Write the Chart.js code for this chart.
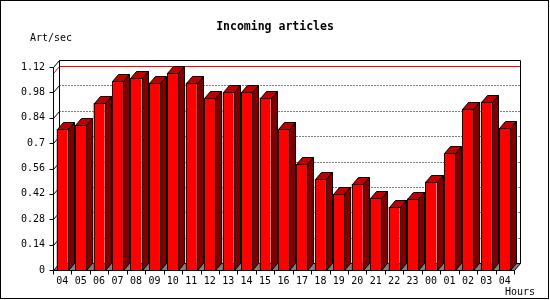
<!DOCTYPE html>
<html>
<head>
<meta charset="utf-8">
<script src="https://cdn.jsdelivr.net/npm/chart.js@4/dist/chart.umd.min.js"></script>
<style>
  body { margin: 0; background: #fff; }
  canvas { display: block; }
</style>
</head>
<body>
<canvas id="articlesChart" width="550" height="300"></canvas>
<script>
// ===================== data =====================
var hours = ["04", "05", "06", "07", "08", "09", "10", "11", "12", "13", "14", "15", "16",
  "17", "18", "19", "20", "21", "22", "23", "00", "01", "02", "03", "04"];
var artPerSec = [0.778, 0.8, 0.922, 1.041, 1.058, 1.033, 1.088, 1.033, 0.95, 0.981, 0.981, 0.95, 0.778,
  0.585, 0.502, 0.419, 0.474, 0.396, 0.347, 0.394, 0.488, 0.645, 0.889, 0.928, 0.784];
var yTicks = [0, 0.14, 0.28, 0.42, 0.56, 0.7, 0.84, 0.98, 1.12];

var titleText = "Incoming articles";
var yUnit = "Art/sec";
var xUnit = "Hours";

var depthX = 6, depthY = 7; // 3d offset of the back wall
var monoFont = '"DejaVu Sans Mono", "Liberation Mono", monospace';

function px(v) { return Math.round(v) + 0.5; }

function line(c, x1, y1, x2, y2) {
  c.beginPath();
  c.moveTo(x1, y1);
  c.lineTo(x2, y2);
  c.stroke();
}

// back wall, floor, dotted grid and max line (behind the bars)
var box3d = {
  id: "box3d",
  beforeDatasetsDraw: function (chart) {
    var c = chart.ctx, a = chart.chartArea, ys = chart.scales.y;
    var L = px(a.left), R = px(a.right), B = px(a.bottom), T = px(a.top);
    c.save();
    c.lineWidth = 1;
    c.strokeStyle = "#000";

    // floor
    c.fillStyle = "#808080";
    c.beginPath();
    c.moveTo(L, B);
    c.lineTo(R, B);
    c.lineTo(R + depthX, B - depthY);
    c.lineTo(L + depthX, B - depthY);
    c.closePath();
    c.fill();
    line(c, L + depthX, B - depthY, R + depthX, B - depthY);

    // dotted grid on the back wall + diagonal links to the front axis
    yTicks.forEach(function (v) {
      var yy = px(ys.getPixelForValue(v));
      c.setLineDash([]);
      line(c, L, yy, L + depthX, yy - depthY);
      if (v > 0 && v < ys.max) {
        c.setLineDash([1, 2]);
        line(c, L + depthX, yy - depthY, R + depthX, yy - depthY);
      }
    });
    c.setLineDash([]);

    // max line
    var maxVal = Math.max.apply(null, artPerSec);
    var my = px(ys.getPixelForValue(maxVal));
    c.strokeStyle = "#ff0000";
    line(c, L, my, L + depthX, my - depthY);
    line(c, L + depthX, my - depthY, R + depthX, my - depthY);

    // back wall outline
    c.strokeStyle = "#000";
    c.beginPath();
    c.moveTo(L + depthX, B - depthY);
    c.lineTo(L + depthX, T - depthY);
    c.lineTo(R + depthX, T - depthY);
    c.lineTo(R + depthX, B - depthY);
    c.stroke();
    c.restore();
  },

  afterDatasetsDraw: function (chart) {
    var c = chart.ctx, a = chart.chartArea, ys = chart.scales.y;
    var L = px(a.left), R = px(a.right), B = px(a.bottom);
    c.save();
    c.lineWidth = 1;
    c.strokeStyle = "#000";

    // top and side faces of each bar
    chart.getDatasetMeta(0).data.forEach(function (el) {
      var xl = px(el.x - el.width / 2), xr = px(el.x + el.width / 2);
      var yt = px(el.y), yb = px(el.base);

      c.fillStyle = "#800000";
      c.beginPath();
      c.moveTo(xr, yt);
      c.lineTo(xr + depthX, yt - depthY);
      c.lineTo(xr + depthX, yb - depthY);
      c.lineTo(xr, yb);
      c.closePath();
      c.fill();
      c.stroke();

      c.fillStyle = "#c00000";
      c.beginPath();
      c.moveTo(xl, yt);
      c.lineTo(xl + depthX, yt - depthY);
      c.lineTo(xr + depthX, yt - depthY);
      c.lineTo(xr, yt);
      c.closePath();
      c.fill();
      c.stroke();

      c.strokeRect(xl, yt, xr - xl, yb - yt);
    });

    // front axes
    line(c, L, px(ys.getPixelForValue(ys.max)), L, B);
    line(c, L, B, R, B);
    line(c, R, B, R + depthX, B - depthY);
    yTicks.forEach(function (v) {
      var yy = px(ys.getPixelForValue(v));
      line(c, L - 4, yy, L, yy);
    });
    var step = (a.right - a.left) / hours.length;
    for (var i = 0; i <= hours.length; i++) {
      var xx = px(a.left + i * step);
      line(c, xx, B, xx, B + 4);
    }
    c.restore();
  },

  afterDraw: function (chart) {
    var c = chart.ctx;
    c.save();
    c.fillStyle = "#000";
    c.textBaseline = "middle";
    c.font = "bold 11.5px " + monoFont;
    c.textAlign = "center";
    c.fillText(titleText, 275, 27);
    c.font = "10px " + monoFont;
    c.textAlign = "left";
    c.fillText(yUnit, 30, 38);
    c.fillText(xUnit, 505, 292);
    c.strokeStyle = "#000";
    c.lineWidth = 1;
    c.strokeRect(0.5, 0.5, 548, 298);
    c.restore();
  }
};

var ctx = document.getElementById("articlesChart").getContext("2d");
var articlesChart = new Chart(ctx, {
  type: "bar",
  data: {
    labels: hours,
    datasets: [
      {
        data: artPerSec,
        backgroundColor: "#ff0000",
        borderWidth: 0,
        barPercentage: 0.6,
        categoryPercentage: 1
      }
    ]
  },
  options: {
    responsive: false,
    animation: false,
    layout: { padding: { top: 67, right: 36, left: 0, bottom: 0 } },
    plugins: { legend: { display: false }, tooltip: { enabled: false } },
    scales: {
      x: {
        grid: { display: false, drawTicks: false },
        border: { display: false },
        ticks: { color: "#000", padding: 5, maxRotation: 0, autoSkip: false, font: { family: monoFont, size: 10 } },
        afterFit: function (s) { s.height = 30; }
      },
      y: {
        min: 0,
        max: 1.12,
        grid: { display: false, drawTicks: false },
        border: { display: false },
        afterBuildTicks: function (s) {
          s.ticks = yTicks.map(function (v) { return { value: v }; });
        },
        ticks: {
          color: "#000",
          padding: 8,
          font: { family: monoFont, size: 10 },
          callback: function (v) { return String(+v.toFixed(2)); }
        },
        afterFit: function (s) { s.width = 53; }
      }
    }
  },
  plugins: [box3d]
});
</script>
</body>
</html>
